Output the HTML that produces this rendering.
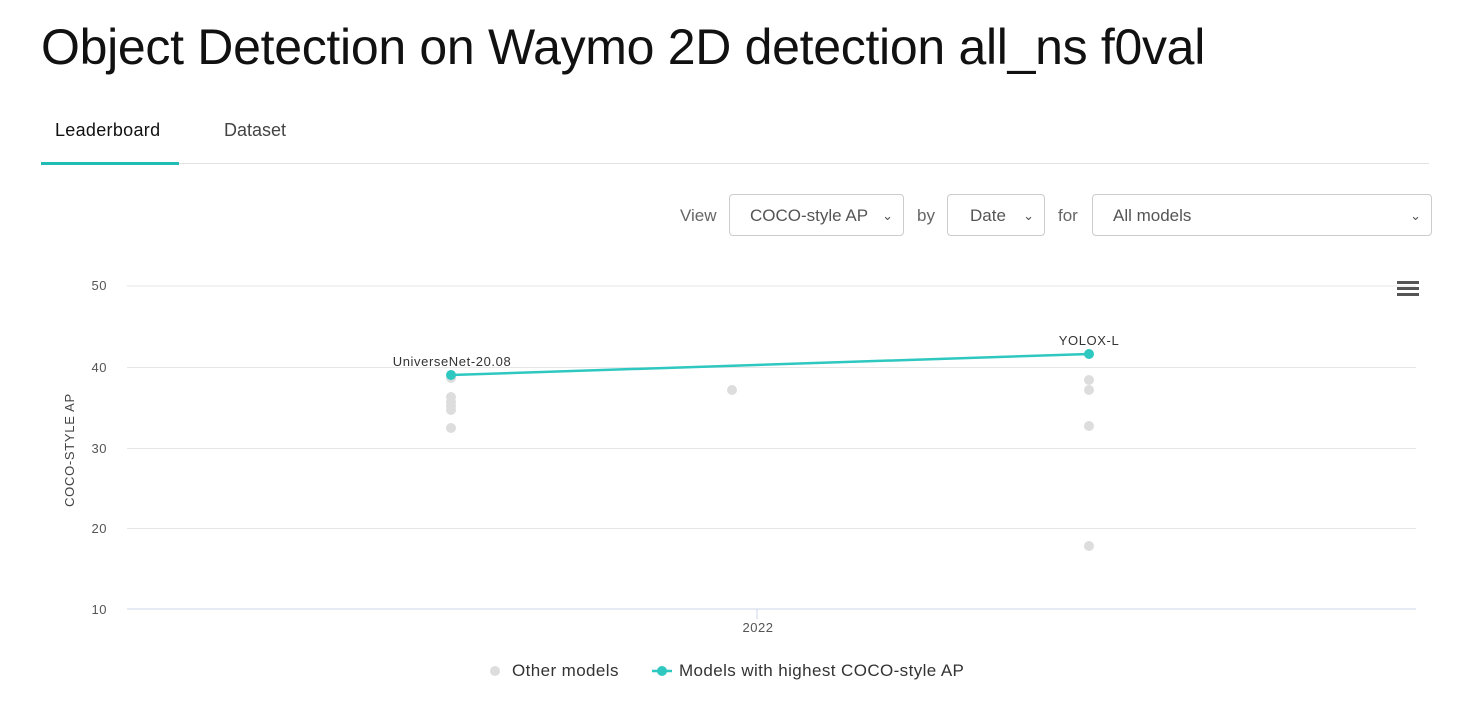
<!DOCTYPE html>
<html><head><meta charset="utf-8"><style>
body{margin:0;width:1471px;height:702px;background:#fff;font-family:"Liberation Sans",sans-serif;position:relative;overflow:hidden}
.a{position:absolute}
h1{position:absolute;left:41px;top:18px;margin:0;font-weight:400;font-size:50px;color:#111;letter-spacing:-0.3px}
.sel{position:absolute;top:194px;height:42px;border:1px solid #ccc;border-radius:4px;box-sizing:border-box;color:#555;font-size:17px;line-height:42px}
.lab{position:absolute;top:206px;font-size:17px;color:#666}
</style></head><body>
<h1>Object Detection on Waymo 2D detection all_ns f0val</h1>
<div class="a" style="left:55px;top:120px;font-size:18px;color:#111;font-weight:400;letter-spacing:0.3px">Leaderboard</div>
<div class="a" style="left:224px;top:120px;font-size:18px;color:#444">Dataset</div>
<div class="a" style="left:41px;top:163px;width:1388px;height:1px;background:#e3e3e3"></div>
<div class="a" style="left:41px;top:162px;width:138px;height:3px;background:#21bcb4"></div>
<div class="lab" style="left:680px">View</div>
<div class="sel" style="left:729px;width:175px;padding-left:20px">COCO-style AP<span style="position:absolute;right:10px;font-size:13px">&#8964;</span></div>
<div class="lab" style="left:917px">by</div>
<div class="sel" style="left:947px;width:98px;padding-left:22px">Date<span style="position:absolute;right:10px;font-size:13px">&#8964;</span></div>
<div class="lab" style="left:1058px">for</div>
<div class="sel" style="left:1092px;width:340px;padding-left:20px">All models<span style="position:absolute;right:10px;font-size:13px">&#8964;</span></div>
<svg class="a" style="left:0;top:0" width="1471" height="702" font-family="Liberation Sans, sans-serif">
<g stroke="#e6e6e6" stroke-width="1">
<line x1="127" x2="1416" y1="286" y2="286"/><line x1="127" x2="1416" y1="367.5" y2="367.5"/>
<line x1="127" x2="1416" y1="448.5" y2="448.5"/><line x1="127" x2="1416" y1="528.5" y2="528.5"/>
</g>
<line x1="127" x2="1416" y1="609" y2="609" stroke="#ccd6eb"/>
<line x1="757" x2="757" y1="609" y2="619" stroke="#ccd6eb"/>
<g font-size="13" fill="#555" text-anchor="end" letter-spacing="0.5">
<text x="107" y="290">50</text><text x="107" y="372">40</text><text x="107" y="453">30</text><text x="107" y="533">20</text><text x="107" y="614">10</text>
</g>
<text x="758" y="632" font-size="13" fill="#555" text-anchor="middle" letter-spacing="0.5">2022</text>
<text transform="translate(74,450) rotate(-90)" font-size="13" fill="#444" text-anchor="middle" letter-spacing="0.7">COCO-STYLE AP</text>
<g fill="#ddd">
<circle cx="451" cy="378" r="5"/><circle cx="451" cy="397" r="5"/><circle cx="451" cy="402" r="5"/><circle cx="451" cy="406" r="5"/><circle cx="451" cy="410" r="5"/><circle cx="451" cy="428" r="5"/>
<circle cx="732" cy="390" r="5"/>
<circle cx="1089" cy="380" r="5"/><circle cx="1089" cy="390" r="5"/><circle cx="1089" cy="426" r="5"/><circle cx="1089" cy="546" r="5"/>
<circle cx="495" cy="671" r="5"/>
</g>
<line x1="451" y1="375" x2="1089" y2="354" stroke="#2ec8c0" stroke-width="2.5"/>
<circle cx="451" cy="375" r="5" fill="#2ec8c0"/><circle cx="1089" cy="354" r="5" fill="#2ec8c0"/>
<text x="452" y="366" font-size="13" fill="#333" text-anchor="middle" letter-spacing="0.6">UniverseNet-20.08</text>
<text x="1089" y="345" font-size="13" fill="#333" text-anchor="middle" letter-spacing="0.6">YOLOX-L</text>
<g fill="#555"><rect x="1397" y="281" width="22" height="3"/><rect x="1397" y="287" width="22" height="3"/><rect x="1397" y="293" width="22" height="3"/></g>
<text x="512" y="676" font-size="17" fill="#333" letter-spacing="0.4">Other models</text>
<line x1="652" x2="672" y1="671" y2="671" stroke="#2ec8c0" stroke-width="2.5"/><circle cx="662" cy="671" r="5" fill="#2ec8c0"/>
<text x="679" y="676" font-size="17" fill="#333" letter-spacing="0.4">Models with highest COCO-style AP</text>
</svg>
</body></html>
